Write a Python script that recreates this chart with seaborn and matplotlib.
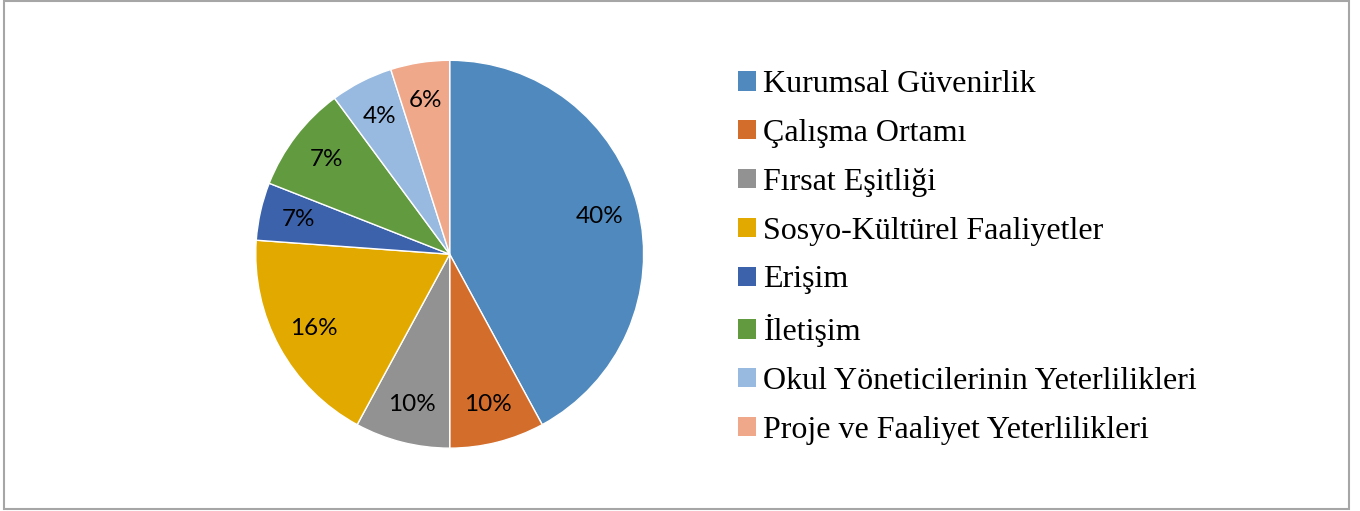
import matplotlib
matplotlib.use("Agg")
import matplotlib.pyplot as plt
import matplotlib.patches as mpatches
import seaborn as sns

# categories and shares (slice sizes, labels as printed)
categories = ["Kurumsal Güvenirlik", "Çalışma Ortamı", "Fırsat Eşitliği",
              "Sosyo-Kültürel Faaliyetler", "Erişim", "İletişim",
              "Okul Yöneticilerinin Yeterlilikleri", "Proje ve Faaliyet Yeterlilikleri"]
shares = [42.0, 7.9, 7.9, 18.2, 4.8, 8.9, 5.2, 4.9]
pct_labels = ["40%", "10%", "10%", "16%", "7%", "7%", "4%", "6%"]
colors = ["#4F89BD", "#D36D2B", "#929292", "#E2AA00",
          "#3C62AB", "#629B3F", "#99BAE0", "#F0A88B"]

sns.set_style("white")
palette = sns.color_palette(colors)

fig = plt.figure(figsize=(13.6, 5.11), dpi=100)
ax = fig.add_axes([0.188, 0.123, 0.2853, 0.759])

wedges, texts, autotexts = ax.pie(
    shares, colors=palette, startangle=90, counterclock=False,
    autopct="%1.0f%%", pctdistance=0.8,
    wedgeprops=dict(edgecolor="white", linewidth=1.0),
    textprops=dict(fontsize=17.5, family=["Lato", "DejaVu Sans"], color="black"))
for t, lab in zip(autotexts, pct_labels):
    t.set_text(lab)
ax.set_xlim(-1.0, 1.0)
ax.set_ylim(-1.0, 1.0)
ax.set_aspect("equal")

handles = [mpatches.Patch(facecolor=c, edgecolor="none") for c in palette]
fig.legend(handles, categories, loc="center left", bbox_to_anchor=(0.5426, 0.496),
           frameon=False, borderpad=0, borderaxespad=0,
           handlelength=0.55, handleheight=0.55, handletextpad=0.25,
           labelspacing=0.62, labelcolor="black",
           prop=dict(family=["Liberation Serif", "DejaVu Serif"], size=23))

# outer grey frame
fig.patches.append(mpatches.Rectangle((0.0029, 0.004), 0.989, 0.995,
                                      transform=fig.transFigure, fill=False,
                                      edgecolor="#a6a6a6", linewidth=1.5))

fig.savefig("out.png", dpi=100)
